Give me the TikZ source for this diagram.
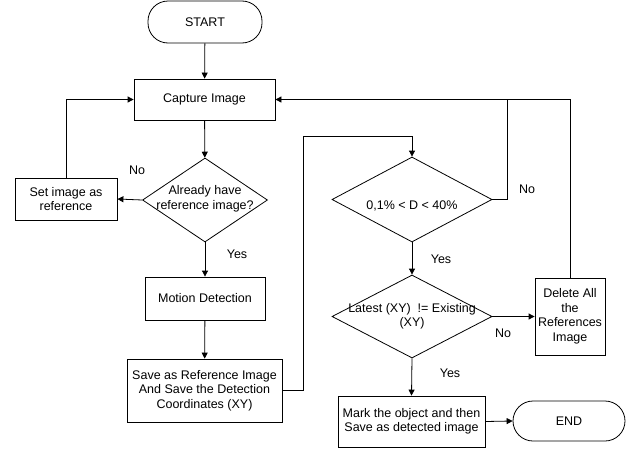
\documentclass[tikz,border=0pt]{standalone}
\usepackage{fontspec}
\setmainfont{Liberation Sans}
\usetikzlibrary{shapes.geometric,arrows.meta}
\begin{document}
\begin{tikzpicture}[x=1pt,y=-1pt,
  every node/.style={font=\fontsize{12.5}{14.5}\selectfont},
  box/.style={draw,line width=0.8pt,rectangle,inner sep=0pt,align=center},
  term/.style={draw,line width=0.8pt,rectangle,rounded corners=20pt,inner sep=0pt},
  dia/.style={draw,line width=0.8pt,diamond,inner sep=0pt},
  lbl/.style={inner sep=0pt,align=center},
  conn/.style={line width=0.8pt},
  arr/.style={conn,-{Triangle[length=6pt,width=6pt]}}]
\path[use as bounding box] (0,0) rectangle (632,450);
\node[term,minimum width=114pt,minimum height=42pt] (start) at (205,22) {START};
\node[box,minimum width=141pt,minimum height=41pt] (cap) at (204.5,99.5) {Capture Image};
\node[dia,minimum width=125pt,minimum height=84pt] (d1) at (205,200) {};
\node[lbl] (d1t) at (205,199) {Already have\\reference image?};
\node[box,minimum width=102pt,minimum height=42pt] (setref) at (66,199) {Set image as\\reference};
\node[box,minimum width=120pt,minimum height=43pt] (md) at (205,298.5) {Motion Detection};
\node[box,minimum width=155pt,minimum height=63pt] (save) at (204.5,390.5) {Save as Reference Image\\And Save the Detection\\Coordinates (XY)};
\node[dia,minimum width=160pt,minimum height=85pt] (d2) at (412,199.5) {};
\node[lbl] (d2t) at (412,206) {0,1\% < D < 40\%};
\node[dia,minimum width=160pt,minimum height=83pt] (d3) at (412,316.5) {};
\node[lbl] (d3t) at (412,316.5) {Latest (XY) \ != Existing\\(XY)};
\node[box,minimum width=70pt,minimum height=77pt] (del) at (570,316.5) {Delete All\\the\\References\\Image};
\node[box,minimum width=147pt,minimum height=51pt] (mark) at (411.5,421.5) {Mark the object and then\\Save as detected image};
\node[term,minimum width=112pt,minimum height=40pt] (end) at (569,421) {END};
\coordinate (c1) at (303,136);
\coordinate (j) at (507,99.5);
\draw[arr] (start) -- (cap);
\draw[arr] (cap) -- (d1);
\draw[arr] (d1.west) -- (setref.east);
\draw[arr] (setref.north) |- (cap.west);
\draw[arr] (d1.south) -- (md.north);
\draw[arr] (md) -- (save);
\draw[arr] (save.east) -| (c1) -| (d2.north);
\draw[arr] (del.north) |- (cap.east);
\draw[conn] (d2.east) -| (j);
\draw[arr] (d2.south) -- (d3.north);
\draw[arr] (d3.east) -- (del.west);
\draw[arr] (d3.south) -- (mark.north);
\draw[arr] (mark.east) -- (end.west);
\node[lbl] (n1) at (137,170) {No};
\node[lbl] (y1) at (237,254) {Yes};
\node[lbl] (n2) at (527,189) {No};
\node[lbl] (y2) at (441,259) {Yes};
\node[lbl] (n3) at (503,333) {No};
\node[lbl] (y3) at (450,373) {Yes};
\end{tikzpicture}
\end{document}
